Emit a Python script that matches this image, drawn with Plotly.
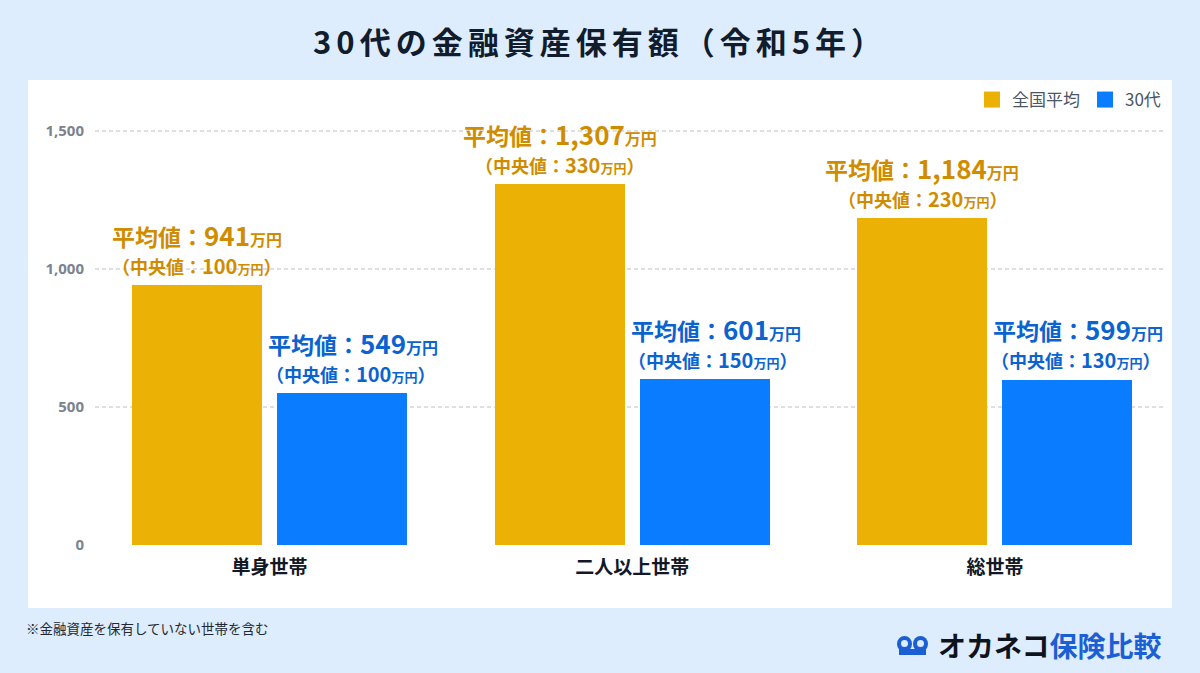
import plotly.graph_objects as go

# ---- data ----
categories = ["単身世帯", "二人以上世帯", "総世帯"]
series_names = ["全国平均", "30代"]
national_mean = [941, 1307, 1184]
national_median = [100, 330, 230]
thirties_mean = [549, 601, 599]
thirties_median = [100, 150, 130]
y_ticks = [0, 500, 1000, 1500]

title_text = "30代の金融資産保有額（令和5年）"
footnote_text = "※金融資産を保有していない世帯を含む"

# ---- style ----
BG = "#deedfd"
GOLD = "#ebb105"
BLUE = "#0a7cff"
GOLD_TXT = "#d08c00"
BLUE_TXT = "#0b63d0"
LOGO_BLUE = "#1b5fd4"
FONT = "Noto Sans CJK JP"

W, H = 1200, 673
L, R, T, B = 95, 35, 103, 128
PW, PH = W - L - R, H - T - B


def px(x):
    return (x - L) / PW


def py(y):
    return (H - B - y) / PH


BAR_W = 0.3586
OFF_A = -0.3793
OFF_B = 0.0207

fig = go.Figure()
xs = list(range(len(categories)))
fig.add_trace(go.Bar(x=xs, y=national_mean, name=series_names[0], width=BAR_W,
                     offset=OFF_A, showlegend=False,
                     marker=dict(color=GOLD, line=dict(width=0))))
fig.add_trace(go.Bar(x=xs, y=thirties_mean, name=series_names[1], width=BAR_W,
                     offset=OFF_B, showlegend=False,
                     marker=dict(color=BLUE, line=dict(width=0))))
# legend entries (square swatches)
for nm, col in zip(series_names, [GOLD, BLUE]):
    fig.add_trace(go.Scatter(x=[None], y=[None], mode="markers", name=nm,
                             marker=dict(symbol="square", size=20, color=col),
                             showlegend=True, hoverinfo="skip"))

annotations = []


def add_labels(i, mean, median, center_off, color, xs1, xs2):
    line1 = (f"<b>平均値：<span style='font-size:26px'>{mean:,}</span>"
             f"<span style='font-size:16px'>万円</span></b>")
    line2 = (f"<b>（中央値：<span style='font-size:20px'>{median:,}</span>"
             f"<span style='font-size:13px'>万円</span>）</b>")
    annotations.append(dict(x=i + center_off, y=mean, xref="x", yref="y",
                            text=line1, showarrow=False, yanchor="middle",
                            xshift=xs1, yshift=51,
                            font=dict(family=FONT, size=23, color=color)))
    annotations.append(dict(x=i + center_off, y=mean, xref="x", yref="y",
                            text=line2, showarrow=False, yanchor="middle",
                            xshift=xs2, yshift=20,
                            font=dict(family=FONT, size=18, color=color)))


for i in xs:
    add_labels(i, national_mean[i], national_median[i], OFF_A + BAR_W / 2, GOLD_TXT, 0, 0)
    add_labels(i, thirties_mean[i], thirties_median[i], OFF_B + BAR_W / 2, BLUE_TXT, 11, 8)

# footnote
annotations.append(dict(x=px(24), y=py(628), xref="paper", yref="paper",
                        text=footnote_text, showarrow=False, xanchor="left",
                        yanchor="middle", font=dict(family=FONT, size=13.5, color="#222833")))
# logo text
annotations.append(dict(x=px(936), y=py(645), xref="paper", yref="paper",
                        text=f"<b>オカネコ</b><b><span style='color:{LOGO_BLUE}'>保険比較</span></b>",
                        showarrow=False, xanchor="left", yanchor="middle",
                        font=dict(family=FONT, size=28, color="#0d1420")))

shapes = [
    dict(type="rect", xref="paper", yref="paper", x0=px(28), x1=px(1172),
         y0=py(608), y1=py(80), fillcolor="white", line=dict(width=0), layer="below"),
    # logo icon
    dict(type="circle", xref="paper", yref="paper", x0=px(897), x1=px(912),
         y0=py(652), y1=py(636), fillcolor=LOGO_BLUE, line=dict(width=0)),
    dict(type="circle", xref="paper", yref="paper", x0=px(913), x1=px(928),
         y0=py(652), y1=py(636), fillcolor=LOGO_BLUE, line=dict(width=0)),
    dict(type="circle", xref="paper", yref="paper", x0=px(901), x1=px(908),
         y0=py(647), y1=py(640), fillcolor=BG, line=dict(width=0)),
    dict(type="circle", xref="paper", yref="paper", x0=px(917), x1=px(924),
         y0=py(647), y1=py(640), fillcolor=BG, line=dict(width=0)),
    dict(type="rect", xref="paper", yref="paper", x0=px(899), x1=px(926),
         y0=py(655), y1=py(649), fillcolor=LOGO_BLUE, line=dict(width=0)),
]

fig.update_layout(
    width=W, height=H,
    margin=dict(l=L, r=R, t=T, b=B, autoexpand=False),
    paper_bgcolor=BG, plot_bgcolor="white",
    barmode="overlay",
    title=dict(text=f"<b>{title_text}</b>", x=0.5, xref="container", xanchor="center",
               y=1 - 43 / H, yref="container", yanchor="middle",
               font=dict(family=FONT, size=31, color="#111c2d")),
    font=dict(family=FONT),
    showlegend=True,
    legend=dict(orientation="h", x=px(1166), xanchor="right", y=py(100), yanchor="middle",
                font=dict(family=FONT, size=17, color="#4b5563"), bgcolor="rgba(0,0,0,0)",
                itemsizing="trace", traceorder="normal"),
    xaxis=dict(range=[-0.481, 2.469], tickvals=xs, ticktext=categories,
               showgrid=False, zeroline=False, showline=False, ticks="",
               ticklabelstandoff=9,
               tickfont=dict(family=FONT, size=19, color="#111827", weight="bold")),
    yaxis=dict(range=[0, 1601], tickvals=y_ticks, tickformat=",d",
               showgrid=True, gridcolor="#dedfe2", gridwidth=1.5, griddash="4px,3px",
               zeroline=False, showline=False, ticks="", ticklabelstandoff=10,
               tickfont=dict(family="Noto Sans", size=15, color="#7b8390", weight="bold")),
    annotations=annotations,
    shapes=shapes,
    bargap=0,
)

post = """
document.body.style.margin = '0';
document.body.style.overflow = 'hidden';
var t = document.querySelector('.gtitle');
if (t) { t.style.letterSpacing = '5px'; }
"""

fig.write_html("out.html", post_script=post, config={"displayModeBar": False})
